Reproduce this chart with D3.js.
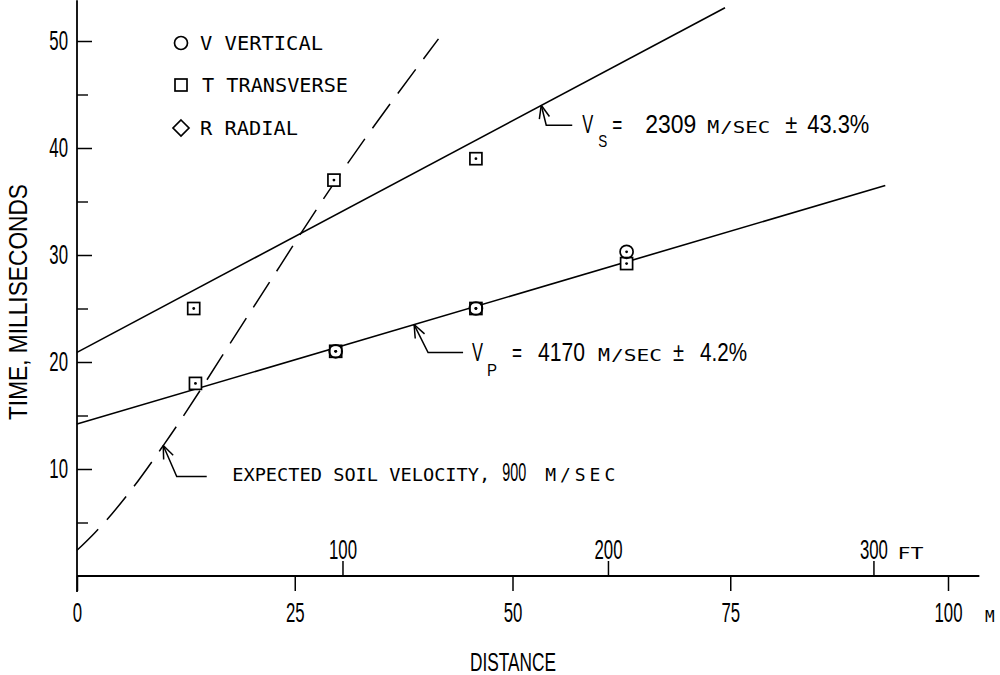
<!DOCTYPE html>
<html>
<head>
<meta charset="utf-8">
<script src="https://cdn.jsdelivr.net/npm/d3@7"></script>
<style>
  body { margin: 0; background: #fff; }
  svg { display: block; }
</style>
</head>
<body>
<div id="chart"></div>
<script>
var svgWidth = 1000;
var svgHeight = 675;

// ticks
var distTicks = [0, 25, 50, 75, 100];
var feetTicks = [100, 200, 300];
var timeMajor = [10, 20, 30, 40, 50];
var timeMinor = [5, 15, 25, 35, 45];

// points: [distance m, time ms]
var vertical = [[29.7, 21.0], [45.8, 25.0], [63.1, 30.3]];
var transverse = [[13.4, 25.0], [13.6, 18.0], [29.5, 37.0], [29.7, 21.0], [45.8, 39.0], [45.8, 25.0], [63.1, 29.2]];

// fitted lines and the expected soil curve
var sLine = [[0, 20.9], [74.4, 53.1]];
var pLine = [[0, 14.2], [92.8, 36.5]];
var soilCurve = [[0, 2.4], [2, 4.0], [4, 5.8], [6, 7.8], [10, 12.3], [20, 24.8], [30, 37.3], [41.5, 50.2]];

var BIG = "'Liberation Sans', Arial, sans-serif";
var MONO = "'DejaVu Sans Mono', monospace";

var svg = d3.select("#chart")
  .append("svg")
  .attr("width", svgWidth)
  .attr("height", svgHeight);

var x = d3.scaleLinear().domain([0, 100]).range([77, 948]);
var xFt = d3.scaleLinear().domain([0, 100 / 0.3048]).range([77, 948]);
var y = d3.scaleLinear().domain([0, 50]).range([576, 41]);

function condense(sel, size, sx) {
  sel.attr("font-family", BIG)
    .attr("font-size", size)
    .attr("fill", "#000")
    .attr("transform", `scale(${sx},1)`)
    .attr("x", function() { return (+d3.select(this).attr("x") || 0) / sx; });
}

function rich(g, x0, y0, parts) {
  parts.forEach(function(p) {
    var t = g.append("text")
      .attr("x", x0 + p.dx)
      .attr("y", y0 + (p.dy || 0))
      .attr("font-family", p.mono ? MONO : BIG)
      .attr("font-size", p.size)
      .attr("fill", "#000")
      .text(p.t);
    if (p.w) t.attr("textLength", p.w).attr("lengthAdjust", p.adj || "spacingAndGlyphs");
  });
}

// axis lines
svg.append("line")
  .attr("x1", x(0)).attr("x2", x(0))
  .attr("y1", y(-1.5)).attr("y2", y(53.8))
  .attr("stroke", "#000").attr("stroke-width", 1.8);
svg.append("line")
  .attr("x1", x(0)).attr("x2", x(103.6))
  .attr("y1", y(0)).attr("y2", y(0))
  .attr("stroke", "#000").attr("stroke-width", 1.8);

// y ticks
var gy = svg.append("g")
  .attr("transform", `translate(${x(0)},0)`)
  .call(d3.axisLeft(y).tickValues(timeMajor).tickSize(-15).tickPadding(9));
gy.select(".domain").remove();
gy.selectAll("line").attr("stroke-width", 1.5);
gy.selectAll("text").call(condense, 28, 0.6);

var gyMinor = svg.append("g")
  .attr("transform", `translate(${x(0)},0)`)
  .call(d3.axisLeft(y).tickValues(timeMinor).tickSize(-11).tickFormat(""));
gyMinor.select(".domain").remove();
gyMinor.selectAll("line").attr("stroke-width", 1.4);

// x ticks, metres
var gx = svg.append("g")
  .attr("transform", `translate(0,${y(0)})`)
  .call(d3.axisBottom(x).tickValues(distTicks).tickSize(15).tickPadding(11));
gx.select(".domain").remove();
gx.selectAll("line").attr("stroke-width", 1.5);
gx.selectAll("text").call(condense, 28, 0.6);
rich(svg, x(100) + 37, y(0) + 46, [{ t: "M", mono: true, size: 16, dx: 0 }]);

// x ticks, feet
var gf = svg.append("g")
  .attr("transform", `translate(0,${y(0)})`)
  .call(d3.axisTop(xFt).tickValues(feetTicks).tickSize(15).tickPadding(2));
gf.select(".domain").remove();
gf.selectAll("line").attr("stroke-width", 1.5);
gf.selectAll("text").call(condense, 28, 0.6);
rich(svg, xFt(300) + 24, y(0) - 17, [{ t: "FT", mono: true, size: 16, dx: 0, w: 26 }]);

// axis titles
rich(svg, 470, 671, [{ t: "DISTANCE", size: 25, dx: 0, w: 86 }]);
svg.append("text")
  .attr("transform", "translate(27,420) rotate(-90)")
  .attr("font-family", BIG).attr("font-size", 25).attr("fill", "#000")
  .attr("textLength", 236).attr("lengthAdjust", "spacingAndGlyphs")
  .text("TIME, MILLISECONDS");

// lines
var line = d3.line().x(d => x(d[0])).y(d => y(d[1]));
svg.append("path").attr("d", line(sLine))
  .attr("fill", "none").attr("stroke", "#000").attr("stroke-width", 1.6);
svg.append("path").attr("d", line(pLine))
  .attr("fill", "none").attr("stroke", "#000").attr("stroke-width", 1.6);
svg.append("path").attr("d", line.curve(d3.curveMonotoneX)(soilCurve))
  .attr("fill", "none").attr("stroke", "#000").attr("stroke-width", 1.5)
  .attr("stroke-dasharray", "30,13");

// markers
function drawSquare(g, cx, cy) {
  g.append("rect").attr("x", cx - 6).attr("y", cy - 6).attr("width", 12).attr("height", 12)
    .attr("fill", "#fff").attr("stroke", "#000").attr("stroke-width", 1.7);
}
function drawCircle(g, cx, cy) {
  g.append("circle").attr("cx", cx).attr("cy", cy).attr("r", 6.5)
    .attr("fill", "none").attr("stroke", "#000").attr("stroke-width", 1.7);
}
function drawDiamond(g, cx, cy) {
  g.append("path").attr("d", `M${cx},${cy - 8}L${cx + 8},${cy}L${cx},${cy + 8}L${cx - 8},${cy}Z`)
    .attr("fill", "none").attr("stroke", "#000").attr("stroke-width", 1.7);
}

var pts = svg.append("g");
transverse.forEach(d => drawSquare(pts, x(d[0]), y(d[1])));
vertical.forEach(d => drawCircle(pts, x(d[0]), y(d[1])));
pts.selectAll(".dot")
  .data(transverse.concat(vertical))
  .enter()
  .append("circle")
  .attr("cx", d => x(d[0]))
  .attr("cy", d => y(d[1]))
  .attr("r", 1.4)
  .attr("fill", "#000");

// legend
var leg = svg.append("g");
drawCircle(leg, 181, 43);
drawSquare(leg, 181, 85);
drawDiamond(leg, 181, 128);
rich(leg, 200, 50, [{ t: "V VERTICAL", mono: true, size: 19, dx: 0, w: 123 }]);
rich(leg, 202, 92, [{ t: "T TRANSVERSE", mono: true, size: 19, dx: 0, w: 146 }]);
rich(leg, 200, 135, [{ t: "R RADIAL", mono: true, size: 19, dx: 0, w: 98 }]);

// annotations with arrows
function arrow(g, tip, elbow, endX) {
  var tx = x(tip[0]), ty = y(tip[1]);
  var ex = tx + elbow[0], ey = ty + elbow[1];
  g.append("path").attr("d", `M${tx},${ty}L${ex},${ey}L${tx + endX},${ey}`)
    .attr("fill", "none").attr("stroke", "#000").attr("stroke-width", 1.5);
  var ang = Math.atan2(elbow[1], elbow[0]);
  [-0.38, 0.38].forEach(function(a) {
    g.append("line")
      .attr("x1", tx).attr("y1", ty)
      .attr("x2", tx + 14 * Math.cos(ang + a))
      .attr("y2", ty + 14 * Math.sin(ang + a))
      .attr("stroke", "#000").attr("stroke-width", 1.5);
  });
  return [tx, ty];
}

var ann = svg.append("g");
var tS = arrow(ann, [53.3, 44.0], [5, 20], 31);
rich(ann, tS[0] + 41, tS[1] + 28, [
  { t: "V", size: 25, dx: 0, w: 11 },
  { t: "S", size: 17, dx: 16, dy: 14, w: 9 },
  { t: "=", size: 25, dx: 30, w: 10 },
  { t: "2309", size: 25, dx: 63, w: 51 },
  { t: "M", mono: true, size: 17, dx: 125, w: 12 },
  { t: "/SEC", mono: true, size: 15, dx: 138, w: 50 },
  { t: "±", size: 25, dx: 203, w: 12 },
  { t: "43.3%", size: 25, dx: 225, w: 62 }
]);

var tP = arrow(ann, [38.7, 23.5], [14, 28], 49);
rich(ann, tP[0] + 58, tP[1] + 36, [
  { t: "V", size: 25, dx: 0, w: 11 },
  { t: "P", size: 17, dx: 15, dy: 15, w: 10 },
  { t: "=", size: 25, dx: 40, w: 10 },
  { t: "4170", size: 25, dx: 66, w: 47 },
  { t: "M", mono: true, size: 17, dx: 126, w: 12 },
  { t: "/SEC", mono: true, size: 15, dx: 139, w: 51 },
  { t: "±", size: 25, dx: 201, w: 11 },
  { t: "4.2%", size: 25, dx: 228, w: 47 }
]);

var tE = arrow(ann, [9.9, 12.2], [13.5, 31], 43.5);
rich(ann, tE[0] + 69, tE[1] + 36, [
  { t: "EXPECTED SOIL VELOCITY,", mono: true, size: 17, dx: 0, w: 258 },
  { t: "900", size: 26, dx: 270, w: 24 },
  { t: "M/SEC", mono: true, size: 18, dx: 313, w: 70, adj: "spacing" }
]);
</script>
</body>
</html>
